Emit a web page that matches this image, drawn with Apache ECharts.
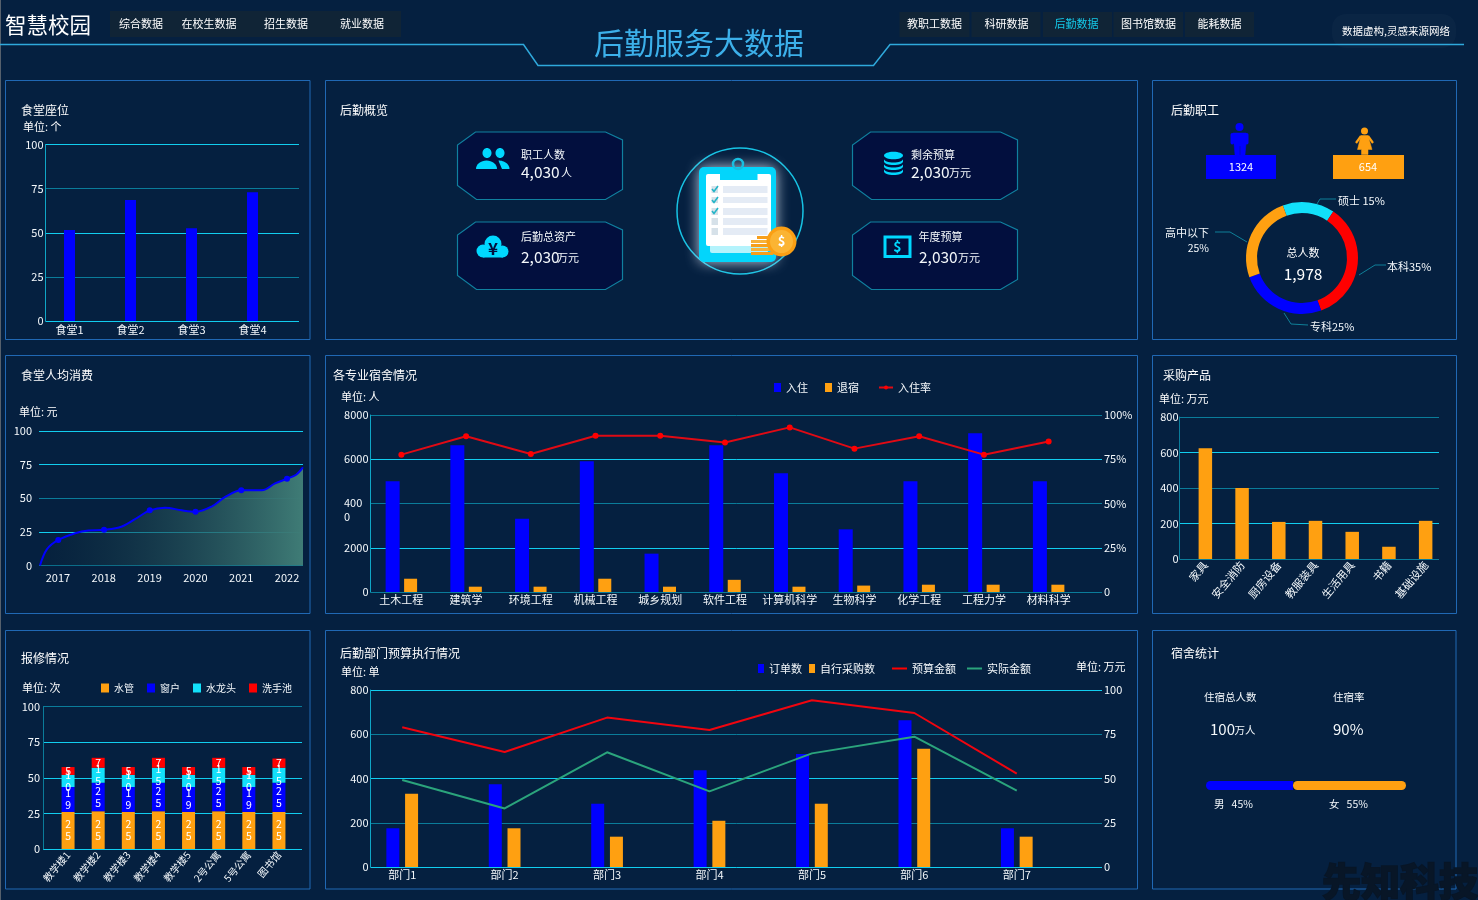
<!DOCTYPE html>
<html>
<head>
<meta charset="utf-8">
<title>后勤服务大数据</title>
<style>html,body{margin:0;padding:0;background:#052040;overflow:hidden}#c{width:1478px;height:900px}</style>
<script src="https://cdn.jsdelivr.net/npm/echarts@6/dist/echarts.min.js"></script>
</head>
<body>
<div id="c"></div>
<script>
// ---- data ----
const seatCategories = ['食堂1','食堂2','食堂3','食堂4'];
const seatValues = [51.5,68.5,52.6,73];

const spendYears = ['2017','2018','2019','2020','2021','2022'];
const spendX = [2016.6,2016.75,2017,2017.37,2017.66,2018,2018.39,2018.75,2019,2019.33,2019.7,2020,2020.36,2020.65,2021,2021.45,2021.74,2022,2022.2,2022.35];
const spendY = [0,12,19,24,26,26.5,29,36,41,43,41,40,44,51,56,56,61,64.5,67.5,73];

const dormCategories = ['土木工程','建筑学','环境工程','机械工程','城乡规划','软件工程','计算机科学','生物科学','化学工程','工程力学','材料科学'];
const dormIn = [5002,6629,3314,5906,1733,6629,5363,2832,5002,7171,5002];
const dormOut = [600,240,240,600,240,550,240,290,330,330,330];
const dormRate = [77.6,88,78,88.3,88.3,84.5,93,81,88,77.6,85];

const purchaseCategories = ['家具','安全消防','厨房设备','教服装具','生活用具','书籍','基础设施'];
const purchaseValues = [624,400,209,215,153,69,215];

const repairCategories = ['教学楼1','教学楼2','教学楼3','教学楼4','教学楼5','2号公寓','5号公寓','图书馆'];
const repairPipe = [26,26.5,26,26.5,26,26.5,26,26];
const repairWindow = [17.5,20,17.5,20,17.5,20,17.5,20.5];
const repairTap = [8.5,10.5,8.5,10.5,8.5,10.5,8.5,10.5];
const repairSink = [5.5,7,5.5,7,5.5,7,5.5,6.5];
const repairPipeText = ['25','25','25','25','25','25','25','25'];
const repairWindowText = ['19','25','19','25','19','25','19','25'];
const repairTapText = ['10','15','10','15','10','15','10','15'];
const repairSinkText = ['5','7','5','7','5','7','5','7'];

const deptCategories = ['部门1','部门2','部门3','部门4','部门5','部门6','部门7'];
const deptOrders = [175,374,286,437,511,663,175];
const deptSelf = [331,175,137,209,286,535,137];
const deptBudget = [78.9,65,84.4,77.4,94.2,87,52.7];
const deptActual = [49.2,33.1,64.8,42.7,64.2,73.6,43.1];

const eduNames = ['硕士','本科','专科','高中以下'];
const eduValues = [15,35,25,25];
const staffTotal = '1,978', staffMale = '1324', staffFemale = '654';

const dormGender = ['男','女'];
const dormGenderShare = [45,55];

const navLeft = ['综合数据','在校生数据','招生数据','就业数据'];
const navRight = ['教职工数据','科研数据','后勤数据','图书馆数据','能耗数据'];

// ---- style ----
const FONT = '"Noto Sans CJK SC","Noto Sans",sans-serif';
const WHITE = '#f4f8fb', BLUE = '#0000ff', ORANGE = '#ffa011', RED = '#ff0000', CYAN = '#00d8ff', TEAL = '#12e0fa', GREEN = '#2ba47c';
const HI = '#11cdef', LO = '#0a7c9a';

const grid = [], xAxis = [], yAxis = [], series = [], legend = [], graphic = [];
const lab = {color: WHITE, fontSize: 11, fontFamily: FONT};

// frame: the axis lines, split lines and tick labels of a panel
function frame(l, r, t, b, max, step, colors, opts) {
  opts = opts || {};
  const g = grid.length;
  grid.push({left: l, top: t, width: r - l, height: b - t, containLabel: false});
  xAxis.push({gridIndex: g, type: 'value', min: 0, max: 1, show: false});
  yAxis.push({gridIndex: g, type: 'value', min: 0, max: max, interval: step,
    axisLine: {show: true, lineStyle: {color: opts.axisColor || LO}}, axisTick: {show: false},
    axisLabel: Object.assign({}, lab, {margin: opts.margin == null ? 2 : opts.margin, formatter: opts.fmt}),
    splitLine: {show: true, lineStyle: {color: colors, width: 1}}});
  if (opts.rightMax) {
    yAxis.push({gridIndex: g, type: 'value', position: 'right', min: 0, max: opts.rightMax, interval: opts.rightMax / 4,
      axisLine: {show: false}, axisTick: {show: false}, splitLine: {show: false},
      axisLabel: Object.assign({}, lab, {margin: 2, formatter: opts.rightFmt})});
  }
}
// plot: the band scale the marks use
function plot(l, r, t, b, cats, max, rightMax, rot, margin, size) {
  const g = grid.length;
  grid.push({left: l, top: t, width: r - l, height: b - t});
  const xi = xAxis.length, yi = yAxis.length;
  xAxis.push({gridIndex: g, type: 'category', data: cats,
    axisLine: {show: false}, axisTick: {show: false}, splitLine: {show: false},
    axisLabel: Object.assign({}, lab, {fontSize: size || 11, interval: 0, rotate: rot || 0, margin: margin == null ? 3 : margin})});
  yAxis.push({gridIndex: g, type: 'value', min: 0, max: max, show: false, splitLine: {show: false}});
  if (rightMax) yAxis.push({gridIndex: g, type: 'value', min: 0, max: rightMax, show: false, splitLine: {show: false}});
  return {x: xi, y: yi, y2: yi + 1};
}
function bar(name, a, data, color, w, extra) {
  return Object.assign({name, type: 'bar', xAxisIndex: a.x, yAxisIndex: a.y, data, barWidth: w, itemStyle: {color}}, extra || {});
}

// ---- 食堂座位 ----
frame(45.5, 299, 144.5, 321, 100, 25, [HI, LO, HI, LO, HI], {axisColor: '#0fa6c6'});
let a = plot(39, 283, 144.5, 321, seatCategories, 100, 0, 0, 3);
series.push(bar('座位', a, seatValues, BLUE, 11));

// ---- 食堂人均消费 ----
frame(39, 303, 431, 565.5, 100, 25, [LO, HI, LO, HI, HI], {margin: 7});
yAxis[yAxis.length - 1].axisLine.show = false;
plot(35, 310, 431, 565.5, spendYears, 100, 0, 0, 7);
{
  const g = grid.length;
  grid.push({left: 40, top: 431, width: 263, height: 134.5});
  const xi = xAxis.length, yi = yAxis.length;
  xAxis.push({gridIndex: g, type: 'value', min: spendX[0], max: spendX[spendX.length - 1], show: false});
  yAxis.push({gridIndex: g, type: 'value', min: 0, max: 100, show: false});
  series.push({name: '人均消费', type: 'line', xAxisIndex: xi, yAxisIndex: yi, smooth: 0.35,
    data: spendX.map((x, i) => [x, spendY[i]]),
    symbol: 'circle', symbolSize: v => Number.isInteger(v[0]) ? 6 : 0,
    lineStyle: {color: BLUE, width: 2}, itemStyle: {color: BLUE},
    areaStyle: {color: {type: 'linear', x: 0, y: 0, x2: 1, y2: 0, colorStops: [{offset: 0, color: 'rgba(8,35,55,0.3)'}, {offset: 1, color: '#3f7c76'}]}, opacity: 1}});
}

// ---- 各专业宿舍情况 ----
frame(370.5, 1102, 415, 592, 8000, 2000, [LO, HI, LO, HI, LO], {
  axisColor: '#0fa6c6', rightMax: 100, rightFmt: v => v === 0 ? '0' : v + '%',
  fmt: v => v === 4000 ? '' : String(v)});
a = plot(369, 1081, 415, 592, dormCategories, 8000, 100, 0, 2);
series.push(bar('入住', a, dormIn, BLUE, 14, {barGap: '32%'}));
series.push(bar('退宿', a, dormOut, ORANGE, 13));
series.push({name: '入住率', type: 'line', xAxisIndex: a.x, yAxisIndex: a.y2, data: dormRate,
  symbol: 'circle', symbolSize: 6, lineStyle: {color: '#e00a14', width: 2}, itemStyle: {color: RED}});
legend.push({left: 774, top: 382, padding: 0, icon: 'rect', itemWidth: 7, itemHeight: 9, itemGap: 17, selectedMode: false, data: ['入住','退宿'], textStyle: lab});
legend.push({left: 878, top: 382, padding: 0, itemWidth: 14, itemHeight: 5, selectedMode: false, data: ['入住率'], textStyle: lab});

// ---- 采购产品 ----
frame(1179.5, 1439, 417, 559, 800, 200, [LO, HI, LO, HI, LO], {margin: 1});
a = plot(1187, 1444, 417, 559, purchaseCategories, 800, 0, 50, 4);
series.push(bar('采购额', a, purchaseValues, ORANGE, 13.5));

// ---- 报修情况 ----
frame(43, 302, 706.5, 849, 100, 25, [HI, HI, HI, HI, LO], {margin: 3});
a = plot(53, 294, 706.5, 849, repairCategories, 100, 0, 50, 4, 10);
function stacked(name, data, txt, color) {
  return bar(name, a, data, color, 13, {stack: 'repair',
    label: {show: true, position: 'inside', color: '#fff', fontSize: 10.5, fontFamily: FONT, lineHeight: 12,
      formatter: p => txt[p.dataIndex].split('').join('\n')}});
}
series.push(stacked('水管', repairPipe, repairPipeText, ORANGE));
series.push(stacked('窗户', repairWindow, repairWindowText, BLUE));
series.push(stacked('水龙头', repairTap, repairTapText, TEAL));
series.push(stacked('洗手池', repairSink, repairSinkText, RED));
legend.push({left: 101, top: 683, padding: 0, icon: 'rect', itemWidth: 8, itemHeight: 9, itemGap: 13, selectedMode: false, data: ['水管','窗户','水龙头','洗手池'],
  textStyle: {color: WHITE, fontSize: 10, fontFamily: FONT}});

// ---- 后勤部门预算执行情况 ----
frame(370.5, 1102, 690, 867, 800, 200, [HI, LO, HI, LO, HI], {axisColor: '#0fa6c6', rightMax: 100, rightFmt: v => String(v)});
a = plot(351, 1068, 690, 867, deptCategories, 800, 100, 0, 2);
series.push(bar('订单数', a, deptOrders, BLUE, 13, {barGap: '44%'}));
series.push(bar('自行采购数', a, deptSelf, ORANGE, 13));
series.push({name: '预算金额', type: 'line', xAxisIndex: a.x, yAxisIndex: a.y2, data: deptBudget, showSymbol: false, symbol: 'none', lineStyle: {color: '#f0050f', width: 2}, itemStyle: {color: RED}});
series.push({name: '实际金额', type: 'line', xAxisIndex: a.x, yAxisIndex: a.y2, data: deptActual, showSymbol: false, symbol: 'none', lineStyle: {color: GREEN, width: 2}, itemStyle: {color: GREEN}});
legend.push({left: 758, top: 663, padding: 0, icon: 'rect', itemWidth: 6, itemHeight: 9, itemGap: 7, selectedMode: false, data: ['订单数','自行采购数'], textStyle: lab});
legend.push({left: 892, top: 663, padding: 0, icon: 'rect', itemWidth: 15, itemHeight: 2, itemGap: 11, selectedMode: false, data: ['预算金额','实际金额'], textStyle: lab});

// ---- 学历环形 ----
series.push({name: '学历', type: 'pie', center: [1302, 258], radius: [45, 56], startAngle: 110, silent: true,
  label: {show: false}, labelLine: {show: false},
  data: eduNames.map((n, i) => ({name: n, value: eduValues[i], itemStyle: {color: [TEAL, RED, BLUE, ORANGE][i]}}))});

// ---- 住宿性别比例 ----
{
  const g = grid.length;
  grid.push({left: 1206, top: 781, width: 200, height: 9});
  const xi = xAxis.length, yi = yAxis.length;
  xAxis.push({gridIndex: g, type: 'value', min: 0, max: 100, show: false});
  yAxis.push({gridIndex: g, type: 'category', data: ['性别'], show: false});
  series.push({name: dormGender[0], type: 'bar', stack: 'g', xAxisIndex: xi, yAxisIndex: yi, data: [dormGenderShare[0] - 1.5], barWidth: 9, itemStyle: {color: BLUE, borderRadius: [4.5, 0, 0, 4.5]}});
  series.push({name: dormGender[1], type: 'bar', stack: 'g', xAxisIndex: xi, yAxisIndex: yi, data: [dormGenderShare[1] + 1.5], barWidth: 9, itemStyle: {color: ORANGE, borderRadius: 4.5}});
}

// ---- graphic helpers ----
function T(text, x, y, size, color, align, extra) {
  graphic.push({type: 'text', x, y, silent: true, z: 10,
    style: Object.assign({text, fill: color || WHITE, fontSize: size, fontFamily: FONT, align: align || 'left', verticalAlign: 'middle'}, (extra || {}))});
}
function R(x, y, w, h, fill, r, extra) {
  graphic.push(Object.assign({type: 'rect', silent: true, z: 1, shape: {x, y, width: w, height: h, r: r || 0}, style: {fill}}, extra || {}));
}
function C(cx, cy, r, fill, z) { graphic.push({type: 'circle', silent: true, z: z || 2, shape: {cx, cy, r}, style: {fill}}); }
function E(cx, cy, rx, ry, fill, z) { graphic.push({type: 'ellipse', silent: true, z: z || 3, shape: {cx, cy, rx, ry}, style: {fill}}); }
function Poly(points, fill, stroke, lw, z) { graphic.push({type: 'polygon', silent: true, z: z || 2, shape: {points}, style: {fill: fill, stroke: stroke, lineWidth: lw || 1}}); }
function Line(points, stroke, lw, z) { graphic.push({type: 'polyline', silent: true, z: z || 2, shape: {points}, style: {fill: 'none', stroke, lineWidth: lw || 1}}); }
// outlines of small icon pieces
function arcPts(cx, cy, rx, ry, from, to) {
  const out = [];
  for (let i = 0; i <= 16; i++) { const t = (from + (to - from) * i / 16) * Math.PI / 180; out.push([cx + rx * Math.cos(t), cy + ry * Math.sin(t)]); }
  return out;
}
function disc(cx, y, rx, ry, h, fill) {
  Poly(arcPts(cx, y, rx, ry, 180, 0).concat(arcPts(cx, y + h, rx, ry, 0, 180)), fill, 'none', 0, 3);
}

// panels
[[5.5, 80.5, 304.5, 259], [325.5, 80.5, 812, 259], [1152.5, 80.5, 304, 259],
 [5.5, 355.5, 304.5, 258], [325.5, 355.5, 812, 258], [1152.5, 355.5, 304, 258],
 [5.5, 630.5, 304.5, 258.5], [325.5, 630.5, 812, 258.5], [1152.5, 630.5, 303.5, 258.5]].forEach(p => {
  graphic.push({type: 'rect', silent: true, z: 0, shape: {x: p[0], y: p[1], width: p[2], height: p[3]}, style: {fill: 'none', stroke: '#2068b4', lineWidth: 1}});
});
Line([[0.5, 0], [0.5, 900]], '#56606c', 1);

// header
T('智慧校园', 5, 25, 21.5, '#ffffff');
R(110, 11, 291, 26, '#102436');
[[141, 0], [209, 1], [286, 2], [362, 3]].forEach(n => T(navLeft[n[1]], n[0], 24, 11, '#ffffff', 'center'));
[[899.5, 70], [971.5, 69], [1043, 69], [1113.5, 69.5], [1185, 69]].forEach((b, i) => R(b[0], 12, b[1], 25, '#102436'));
[934.5, 1006.5, 1076.5, 1148.5, 1219.5].forEach((x, i) => T(navRight[i], x, 24, 11, i === 2 ? '#14c8e8' : '#ffffff', 'center'));
R(1332, 14, 124, 34, 'rgba(255,255,255,0.025)', 14, {style: {fill: 'rgba(255,255,255,0.025)', shadowBlur: 14, shadowColor: 'rgba(255,255,255,0.07)'}});
T('数据虚构,灵感来源网络', 1396, 31, 10.5, '#ffffff', 'center');
Line([[0, 44.5], [523.5, 44.5], [538, 65.5], [873.5, 65.5], [890, 44.5], [1464, 44.5]], '#2fa9dc', 1.5);
T('后勤服务大数据', 699, 43, 30, '#3cb0ea', 'center');

// titles
[['食堂座位', 21, 110], ['后勤概览', 340, 110], ['后勤职工', 1171, 110],
 ['食堂人均消费', 21, 375], ['各专业宿舍情况', 333, 375], ['采购产品', 1163, 375],
 ['报修情况', 21, 658], ['后勤部门预算执行情况', 340, 653], ['宿舍统计', 1171, 653]].forEach(t => T(t[0], t[1], t[2], 12, '#ffffff'));
[['单位: 个', 23, 127], ['单位: 元', 19, 412], ['单位: 人', 341, 397], ['单位: 万元', 1159, 398.5],
 ['单位: 次', 22, 688], ['单位: 单', 341, 672], ['单位: 万元', 1076, 667]].forEach(t => T(t[0], t[1], t[2], 11, '#ffffff'));
T('400', 344, 503, 11, WHITE);
T('0', 344, 517, 11, WHITE);

// overview cards
function card(x, y) {
  const w = 165, h = 67.5;
  Poly([[x + 18, y], [x + w - 17, y], [x + w, y + 8], [x + w, y + h - 10], [x + w - 17, y + h], [x + 19, y + h], [x, y + h - 14], [x, y + 13]], '#020f3e', '#10809f', 1.2, 1);
}
card(457.5, 132); card(457.5, 222); card(852.5, 132); card(852.5, 222);
T('职工人数', 521, 155, 11); T('4,030', 521, 172, 15.5); T('人', 561, 173, 11);
T('后勤总资产', 521, 236.5, 11); T('2,030', 521, 257, 15.5); T('万元', 557, 258, 11);
T('剩余预算', 911, 155, 11); T('2,030', 911, 172, 15.5); T('万元', 949, 173, 11);
T('年度预算', 918.5, 237, 11); T('2,030', 919, 257, 15.5); T('万元', 958, 258, 11);

// people icon
E(487, 153, 4.5, 5, CYAN); E(500, 153, 4.5, 5, CYAN);
Poly(arcPts(486.5, 169, 10.5, 8.5, 180, 360), CYAN, 'none', 0, 3);
Poly(arcPts(498.5, 169, 11, 8.5, 270, 360).concat([[502, 169], [499, 162]]), CYAN, 'none', 0, 3);
// cloud icon
C(493, 244, 8.5, CYAN, 3); C(483, 251, 6.5, CYAN, 3); C(502.5, 251.5, 6, CYAN, 3); R(483, 250, 20, 7.5, CYAN, 0, {z: 3});
T('¥', 493, 249, 17, '#020f3e', 'center', {fontWeight: 'bold'}); graphic[graphic.length - 1].z = 11;
// database icon
E(893.5, 155.5, 9.5, 3.8, CYAN);
disc(893.5, 159, 9.5, 3.5, 2.5, CYAN);
disc(893.5, 164, 9.5, 3.5, 2.5, CYAN);
disc(893.5, 169, 9.5, 3.5, 2.5, CYAN);
// bill icon
graphic.push({type: 'rect', silent: true, z: 3, shape: {x: 885, y: 237, width: 25, height: 19.5}, style: {fill: 'none', stroke: CYAN, lineWidth: 3}});
T('$', 897.5, 246.5, 14, CYAN, 'center', {fontWeight: 'bold'});

// clipboard
graphic.push({type: 'circle', silent: true, z: 1, shape: {cx: 740, cy: 211, r: 63}, style: {fill: 'none', stroke: '#17c3e4', lineWidth: 1.5}});
graphic.push({type: 'rect', silent: true, z: 2, shape: {x: 699, y: 167, width: 77, height: 95, r: 5}, style: {fill: '#03d5fb', shadowBlur: 14, shadowColor: 'rgba(230,240,255,0.85)'}});
graphic.push({type: 'circle', silent: true, z: 2, shape: {cx: 738, cy: 164, r: 5}, style: {fill: 'none', stroke: '#18bfe0', lineWidth: 2.5}});
R(710, 244, 58, 9, '#b4f3fc', 2, {z: 3});
R(706, 174, 65, 72, '#ffffff', 2, {z: 3});
R(720, 174, 37.5, 6, '#03d5fb', 0, {z: 4});
[[186, 7], [197, 6], [208, 7], [218, 7], [228, 7]].forEach((r, i) => {
  R(723, r[0], 44.5, r[1], '#e4ebf5', 0, {z: 4});
  R(711.5, r[0], 6.5, r[1], '#d6e1e9', 0, {z: 4});
  if (i < 3) Line([[712, r[0] + 3], [714, r[0] + 5.5], [718, r[0]]], '#23b5c8', 1.6, 5);
});
[236, 240, 244, 248, 252].forEach((yy, i) => { R(i === 0 ? 757 : 751, yy, 22, 3, i % 2 ? '#f7b23a' : '#f79f1c', 0, {z: 5}); });
C(781.5, 241.5, 15, '#fa9f14', 6); C(781.5, 241.5, 11.5, '#fbb433', 6);
T('$', 781.5, 241.5, 13, '#ffffff', 'center', {fontWeight: 'bold'}); graphic[graphic.length - 1].z = 12;

// staff block
R(1206, 155, 70, 24, BLUE, 0, {z: 2}); R(1333, 155, 71, 24, ORANGE, 0, {z: 2});
T(staffMale, 1241, 167, 11, '#ffffff', 'center'); T(staffFemale, 1368, 167, 11, '#ffffff', 'center');
C(1239.5, 127, 4, BLUE);
Poly([[1233, 133], [1246, 133], [1246, 144], [1245, 155], [1240.3, 155], [1240.3, 146], [1239.7, 146], [1239.7, 155], [1235, 155], [1234, 144]], BLUE, BLUE, .5);
R(1230.5, 133, 3.5, 11.5, BLUE, 1.7, {z: 2}); R(1245, 133, 3.5, 11.5, BLUE, 1.7, {z: 2});
C(1364.5, 131, 3.5, ORANGE);
Poly([[1361, 135.5], [1368, 135.5], [1372, 149.5], [1368, 149.5], [1368, 154.5], [1361.5, 154.5], [1361.5, 149.5], [1357.5, 149.5]], ORANGE, ORANGE, .5);
Line([[1361, 136], [1356, 143]], ORANGE, 2.2); Line([[1368, 136], [1373, 143]], ORANGE, 2.2);

// donut labels
T('总人数', 1303, 253, 11, '#ffffff', 'center');
T(staffTotal, 1303, 274, 15.5, '#ffffff', 'center');
Line([[1315, 207], [1320, 199], [1336, 199]], '#0f7f98');
Line([[1359, 275], [1375, 265], [1386, 265]], '#0f7f98');
Line([[1284, 313], [1291, 324], [1308, 325]], '#0f7f98');
Line([[1247, 242], [1230, 232], [1215, 232]], '#0f7f98');
T(eduNames[0] + ' ' + eduValues[0] + '%', 1338, 201, 11);
T(eduNames[1] + eduValues[1] + '%', 1387, 267, 11);
T(eduNames[2] + eduValues[2] + '%', 1310, 327, 11);
T(eduNames[3], 1209, 233, 11, WHITE, 'right');
T(eduValues[3] + '%', 1209, 248, 10.5, WHITE, 'right');

// dorm stats
T('住宿总人数', 1204, 697, 10.5); T('住宿率', 1333, 697, 10.5);
T('100', 1210, 729, 15); T('万人', 1234.5, 730, 10.5); T('90%', 1333, 729, 15);
T(dormGender[0] + '   ' + dormGenderShare[0] + '%', 1214, 804, 10.5);
T(dormGender[1] + '   ' + dormGenderShare[1] + '%', 1329, 804, 10.5);

// watermark
T('先知科技', 1322, 881, 39, '#081627', 'left', {fontWeight: 900, stroke: '#081627', lineWidth: 1.5});
graphic[graphic.length - 1].z = 50;

const chart = echarts.init(document.getElementById('c'), null, {renderer: 'canvas', width: 1478, height: 900});
chart.setOption({
  animation: false,
  backgroundColor: '#052040',
  textStyle: {fontFamily: FONT},
  grid, xAxis, yAxis, series, legend, graphic: {elements: graphic}
});
</script>
</body>
</html>
